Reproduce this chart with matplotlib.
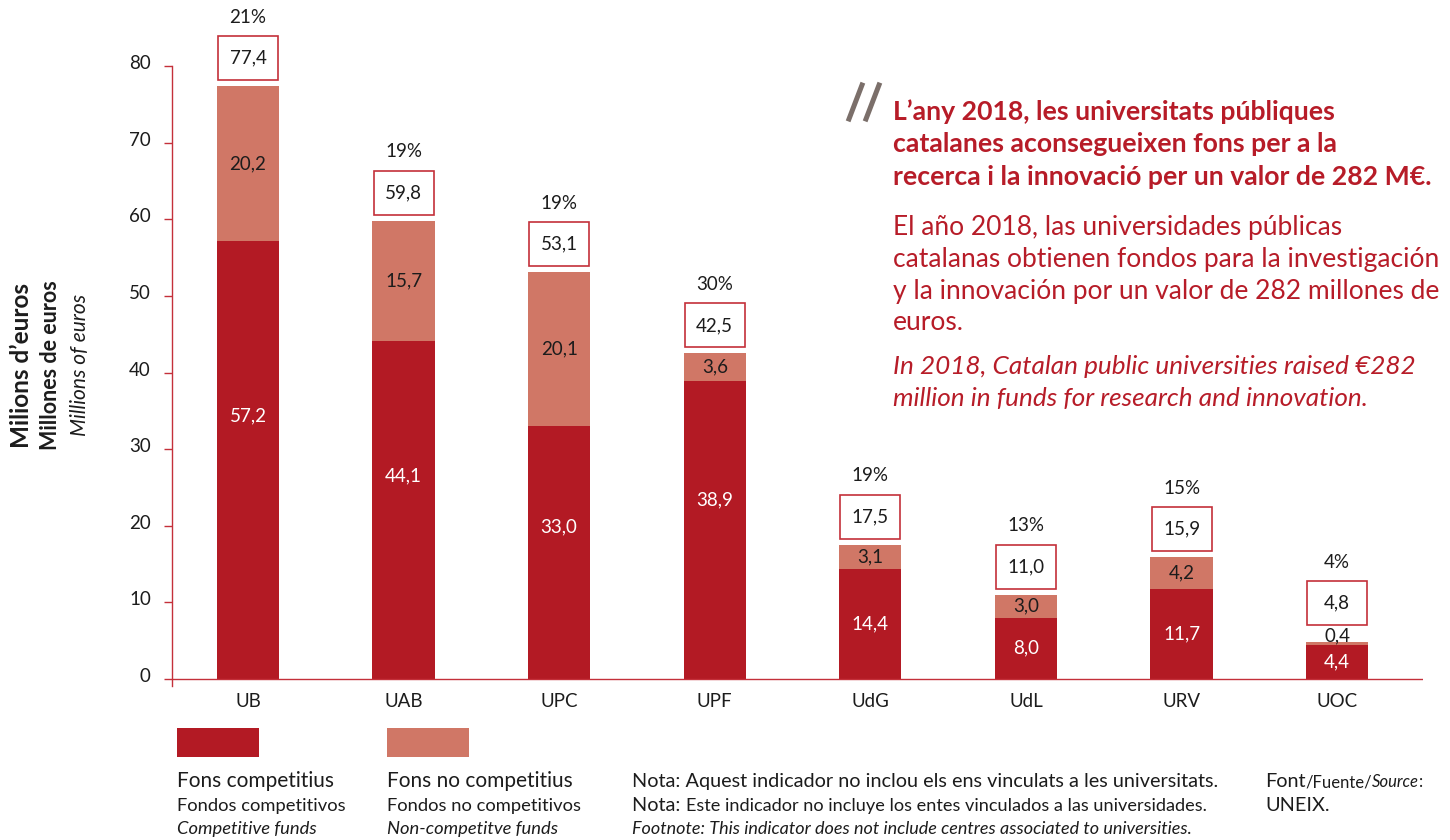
import matplotlib
matplotlib.use("Agg")
import matplotlib.pyplot as plt
import matplotlib.transforms as mtransforms
from matplotlib.patches import Rectangle
from matplotlib.lines import Line2D

plt.rcParams['font.family'] = ['Lato', 'DejaVu Sans']

# data
universities = ['UB', 'UAB', 'UPC', 'UPF', 'UdG', 'UdL', 'URV', 'UOC']
competitive = [57.2, 44.1, 33.0, 38.9, 14.4, 8.0, 11.7, 4.4]
non_competitive = [20.2, 15.7, 20.1, 3.6, 3.1, 3.0, 4.2, 0.4]
totals = [77.4, 59.8, 53.1, 42.5, 17.5, 11.0, 15.9, 4.8]
shares = ['21%', '19%', '19%', '30%', '19%', '13%', '15%', '4%']
y_ticks = [0, 10, 20, 30, 40, 50, 60, 70, 80]

DARK = '#B31A24'
LIGHT = '#D07766'
LINE = '#C4303A'
TXT_RED = '#B71C28'
INK = '#1c1c1c'
LBL = 13.5

W, H = 1450, 840
fig = plt.figure(figsize=(W / 100, H / 100), dpi=100)


def fx(px):
    return px / W


def fy(py):
    return 1 - py / H


ax = fig.add_axes([fx(171.7), fy(685.9), 1251 / W, 623.5 / H])
x = list(range(len(universities)))
ax.bar(x, competitive, width=0.4, color=DARK, zorder=2)
ax.bar(x, non_competitive, bottom=competitive, width=0.4, color=LIGHT, zorder=2)
ax.set_xlim(-0.49, 7.55)
ax.set_ylim(-0.9, 80.5)

for s in ['top', 'right', 'bottom']:
    ax.spines[s].set_visible(False)
ax.spines['left'].set_color(LINE)
ax.spines['left'].set_linewidth(1.0)
ax.spines['left'].set_bounds(-0.9, 80)
ax.axhline(0, color=LINE, lw=1.0, zorder=3)

ax.set_yticks(y_ticks)
ax.set_yticklabels([str(v) for v in y_ticks])
ax.tick_params(axis='y', colors=LINE, length=6, width=1.0, labelcolor=INK,
               labelsize=LBL, pad=9)
ax.set_xticks(x)
ax.set_xticklabels(universities)
ax.tick_params(axis='x', length=0, labelsize=LBL, labelcolor=INK, pad=5)

shift = mtransforms.ScaledTranslation(0, 4 / 100, fig.dpi_scale_trans)
for lab in ax.get_yticklabels():
    lab.set_transform(lab.get_transform() + shift)

# pixel -> data scale
ppu = ax.bbox.height / (80.5 + 0.9)
ppx = ax.bbox.width / (7.55 + 0.49)


def fmt(v):
    return f"{v:.1f}".replace('.', ',')


for i in x:
    c = competitive[i]
    n = non_competitive[i]
    top = totals[i]
    # segment labels
    cy = c * 0.6 if c > 20 else c / 2
    ax.text(i, cy, fmt(c), ha='center', va='center', color='white', fontsize=LBL, zorder=4)
    extra = 0
    if n < 1:
        ax.text(i, top + 6 / ppu, fmt(n), ha='center', va='center', color=INK, fontsize=LBL, zorder=4)
        extra = 11
    else:
        ax.text(i, c + n / 2, fmt(n), ha='center', va='center', color=INK, fontsize=LBL, zorder=4)
    # total box
    bw = 60 / ppx
    bh = 44 / ppu
    by = top + (6 + extra) / ppu
    ax.add_patch(Rectangle((i - bw / 2, by), bw, bh, facecolor='white', edgecolor=LINE,
                           lw=1.2, clip_on=False, zorder=4))
    ax.text(i, by + bh / 2, fmt(top), ha='center', va='center', color=INK, fontsize=LBL, zorder=5)
    ax.text(i, top + (69 + extra) / ppu, shares[i], ha='center', va='center', color=INK,
            fontsize=LBL, zorder=5)

# y axis title
fig.text(fx(22), fy(365), "Milions d\u2019euros", rotation=90, ha='center', va='center',
         fontsize=17.5, fontweight='bold', color=INK)
fig.text(fx(51), fy(365), "Millones de euros", rotation=90, ha='center', va='center',
         fontsize=15.5, fontweight='bold', color=INK)
fig.text(fx(80), fy(365), "Millions of euros", rotation=90, ha='center', va='center',
         fontsize=15, fontstyle='italic', color=INK)

# quote mark
for x0 in (849, 866):
    fig.add_artist(Line2D([fx(x0), fx(x0 + 13)], [fy(119), fy(85)], color='#7b6f6a', lw=3.6))

headline = ["L\u2019any 2018, les universitats p\u00fabliques",
            "catalanes aconsegueixen fons per a la",
            "recerca i la innovaci\u00f3 per un valor de 282 M\u20ac."]
for k, line in enumerate(headline):
    fig.text(fx(893), fy(112 + 32.5 * k), line, ha='left', va='center', fontsize=19.2,
             fontweight='bold', color=TXT_RED)

spanish = ["El a\u00f1o 2018, las universidades p\u00fablicas",
           "catalanas obtienen fondos para la investigaci\u00f3n",
           "y la innovaci\u00f3n por un valor de 282 millones de",
           "euros."]
for k, line in enumerate(spanish):
    fig.text(fx(893), fy(228 + 31.5 * k), line, ha='left', va='center', fontsize=19,
             color=TXT_RED)

english = ["In 2018, Catalan public universities raised \u20ac282",
           "million in funds for research and innovation."]
for k, line in enumerate(english):
    fig.text(fx(893), fy(367 + 31.5 * k), line, ha='left', va='center', fontsize=18.8,
             fontstyle='italic', color=TXT_RED)

# legend
for x0, col in ((177, DARK), (387, LIGHT)):
    fig.add_artist(Rectangle((fx(x0), fy(757)), 82 / W, 29 / H, facecolor=col,
                             edgecolor='none', transform=fig.transFigure))

leg_text = [("Fons competitius", "Fondos competitivos", "Competitive funds"),
            ("Fons no competitius", "Fondos no competitivos", "Non-competitve funds")]
for x0, (a, b, c) in zip((177, 387), leg_text):
    fig.text(fx(x0), fy(781), a, ha='left', va='center', fontsize=15, color=INK)
    fig.text(fx(x0), fy(806), b, ha='left', va='center', fontsize=13.2, color=INK)
    fig.text(fx(x0), fy(829), c, ha='left', va='center', fontsize=13.2, fontstyle='italic', color=INK)

renderer = fig.canvas.get_renderer()


def run(x_px, y_px, parts):
    cur = x_px
    for s, size, style in parts:
        t = fig.text(fx(cur), fy(y_px), s, ha='left', va='baseline', fontsize=size,
                     fontstyle=style, color=INK)
        cur += t.get_window_extent(renderer).width


run(632, 787, [("Nota: Aquest indicador no inclou els ens vinculats a les universitats.", 14.3, 'normal')])
run(632, 811, [("Nota: ", 14.3, 'normal'),
               ("Este indicador no incluye los entes vinculados a las universidades.", 13.1, 'normal')])
run(632, 834, [("Footnote: This indicator does not include centres associated to universities.", 13, 'italic')])
run(1265, 787, [("Font", 14.3, 'normal'), ("/Fuente/", 12, 'normal'), ("Source", 12, 'italic'),
                (":", 12, 'normal')])
run(1265, 811, [("UNEIX.", 14.3, 'normal')])

fig.savefig("out.png", dpi=100)
